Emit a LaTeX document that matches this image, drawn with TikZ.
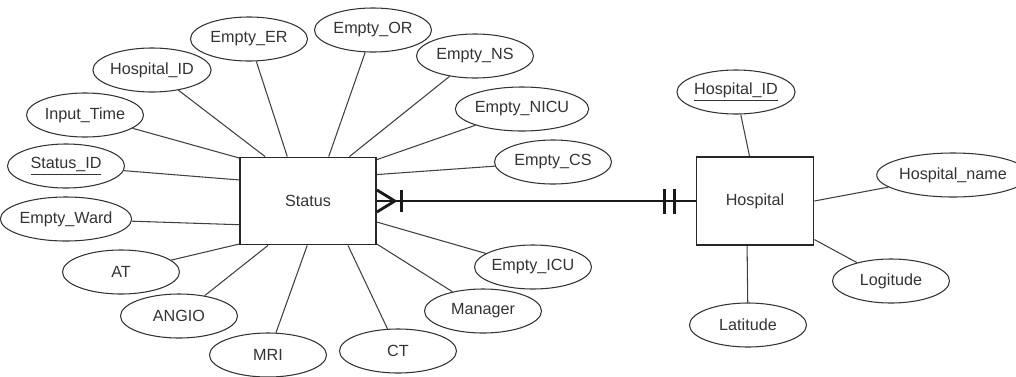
\documentclass[tikz,border=0pt]{standalone}
\usepackage{fontspec}
\setmainfont{Liberation Sans}
\usetikzlibrary{shapes.geometric}

\begin{document}
\begin{tikzpicture}[
    attr/.style={ellipse, draw=black!80, line width=0.6pt, minimum width=2.34cm, minimum height=0.88cm, inner sep=0pt, text=black!80, font=\fontsize{9.2}{11}\selectfont},
    entity/.style={rectangle, draw=black!85, line width=1pt, minimum height=1.74cm, inner sep=0pt, text=black!80, font=\fontsize{9.2}{11}\selectfont},
    link/.style={draw=black!75, line width=0.6pt},
    rel/.style={draw=black!90, line width=1.6pt}
  ]
    \useasboundingbox (0,0) rectangle (20.32,7.52);

    % Entities
    \node[entity, minimum width=2.72cm] (st) at (6.16,3.50) {Status};
    \node[entity, minimum width=2.34cm, minimum height=1.76cm] (hos) at (15.10,3.50) {Hospital};

    % Attributes of Status
    \node[attr] (er) at (4.98,6.74) {Empty\_ER};
    \node[attr] (or) at (7.46,6.92) {Empty\_OR};
    \node[attr] (ns) at (9.50,6.40) {Empty\_NS};
    \node[attr] (nicu) at (10.44,5.34) {Empty\_NICU};
    \node[attr] (cs) at (11.06,4.28) {Empty\_CS};
    \node[attr] (icu) at (10.66,2.18) {Empty\_ICU};
    \node[attr] (mgr) at (9.66,1.30) {Manager};
    \node[attr] (ct) at (7.96,0.50) {CT};
    \node[attr] (mri) at (5.36,0.42) {MRI};
    \node[attr] (angio) at (3.58,1.20) {ANGIO};
    \node[attr] (at) at (2.42,2.08) {AT};
    \node[attr] (ward) at (1.32,3.14) {Empty\_Ward};
    \node[attr] (sid) at (1.32,4.20) {\underline{Status\_ID}};
    \node[attr] (itime) at (1.70,5.22) {Input\_Time};
    \node[attr] (hid) at (3.04,6.12) {Hospital\_ID};

    % Attributes of Hospital
    \node[attr] (hidk) at (14.72,5.68) {\underline{Hospital\_ID}};
    \node[attr, minimum width=2.5cm] (hname) at (19.06,4.02) {Hospital\_name};
    \node[attr] (logi) at (17.82,1.90) {Logitude};
    \node[attr] (lat) at (14.96,1.02) {Latitude};

    % Links to Status
    \draw[link] (er) -- (st.115);
    \draw[link] (or) -- (st.65);
    \draw[link] (ns) -- (st.47);
    \draw[link] (nicu) -- (st.31);
    \draw[link] (cs) -- (st.21);
    \draw[link] (icu) -- (st.343);
    \draw[link] (mgr) -- (st.328);
    \draw[link] (ct) -- (st.312);
    \draw[link] (mri) -- (st.269);
    \draw[link] (angio) -- (st.228);
    \draw[link] (at) -- (st.212);
    \draw[link] (ward) -- (st.199);
    \draw[link] (sid) -- (st.163);
    \draw[link] (itime) -- (st.148);
    \draw[link] (hid) -- (st.134);

    % Links to Hospital
    \draw[link] (hidk) -- (hos.97);
    \draw[link] (hname) -- (hos.east);
    \draw[link] (logi) -- (hos.327);
    \draw[link] (lat) -- (hos.260);

    % Relationship: one or many Status to exactly one Hospital
    \draw[rel] (st.east) -- (hos.west);
    \draw[rel] ([yshift=0.22cm]st.east) -- ([xshift=0.36cm]st.east) -- ([yshift=-0.22cm]st.east);
    \draw[rel] ([xshift=0.5cm,yshift=0.22cm]st.east) -- ([xshift=0.5cm,yshift=-0.22cm]st.east);
    \draw[rel] ([xshift=-0.62cm,yshift=0.25cm]hos.west) -- ([xshift=-0.62cm,yshift=-0.25cm]hos.west);
    \draw[rel] ([xshift=-0.42cm,yshift=0.25cm]hos.west) -- ([xshift=-0.42cm,yshift=-0.25cm]hos.west);
\end{tikzpicture}
\end{document}
